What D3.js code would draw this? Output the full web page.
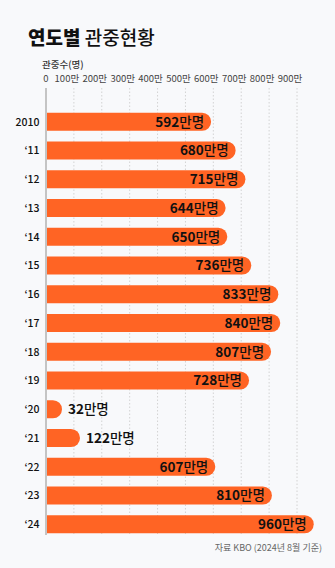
<!DOCTYPE html>
<html><head><meta charset="utf-8">
<script src="https://cdn.jsdelivr.net/npm/d3@7"></script>
<style>
html,body{margin:0;padding:0;background:#f8f9fb;}
svg{display:block;font-family:"Noto Sans CJK KR","Noto Sans",sans-serif;}
</style></head><body>
<div id="chart"></div>
<script>
const years = ["2010","‘11","‘12","‘13","‘14","‘15","‘16","‘17","‘18","‘19","‘20","‘21","‘22","‘23","‘24"];
const attendance = [592,680,715,644,650,736,833,840,807,728,32,122,607,810,960];
const tickValues = [0,100,200,300,400,500,600,700,800,900];
const tickLabels = ["0","100만","200만","300만","400만","500만","600만","700만","800만","900만"];

const W = 335, H = 568;
const svg = d3.select("#chart").append("svg").attr("width",W).attr("height",H);
svg.append("rect").attr("width",W).attr("height",H).attr("fill","#f8f9fb");

const x = d3.scaleLinear().domain([0,900]).range([46,297]);
const y = d3.scaleBand().domain(years).range([107.5,538.5]).paddingInner(0.37).paddingOuter(0.18);

// title
const t = svg.append("text").attr("x",28).attr("y",45).attr("font-size",19).attr("fill","#111");
t.append("tspan").attr("font-weight",800).text("연도별");
t.append("tspan").attr("font-weight",500).text(" 관중현황");

svg.append("text").attr("x",42).attr("y",68).attr("font-size",9.5).attr("fill","#333").attr("font-weight",500).text("관중수(명)");

// grid
const g = svg.append("g");
g.selectAll("line.grid").data(tickValues.slice(1)).join("line")
  .attr("x1",d=>x(d)).attr("x2",d=>x(d)).attr("y1",88).attr("y2",535)
  .attr("stroke","#c9c9c9").attr("stroke-width",0.8).attr("stroke-dasharray","1.5,2");
g.append("line").attr("x1",x(0)).attr("x2",x(0)).attr("y1",88).attr("y2",535)
  .attr("stroke","#c4c4c4").attr("stroke-width",2);

// tick labels
g.selectAll("text.tick").data(tickValues).join("text")
  .attr("x",(d,i)=>i===0?x(d):x(d)-7).attr("y",82)
  .attr("text-anchor","middle")
  .attr("font-size",9.5).attr("fill","#444")
  .text((d,i)=>tickLabels[i]);

// bars
const data = years.map((yr,i)=>({yr,v:attendance[i]}));
const bh = y.bandwidth();
const r = bh/2;
function barEnd(d){ return Math.max(x(d.v), x(0)+16); }
function barPath(d){
  const x0 = x(0)+1, x1 = barEnd(d), y0 = y(d.yr), h = bh;
  const rr = Math.min(r, x1-x0);
  return `M${x0},${y0}H${x1-rr}A${rr},${rr} 0 0 1 ${x1},${y0+rr}V${y0+h-rr}A${rr},${rr} 0 0 1 ${x1-rr},${y0+h}H${x0}Z`;
}
svg.append("g").selectAll("path").data(data).join("path")
  .attr("d",barPath).attr("fill","#ff6424");

// year labels
svg.append("g").selectAll("text").data(data).join("text")
  .attr("x",39.5).attr("y",d=>y(d.yr)+bh/2+3.8).attr("text-anchor","end")
  .attr("font-size",10.5).attr("font-weight",500).attr("fill","#111").text(d=>d.yr);

// value labels
const vl = svg.append("g").selectAll("text").data(data).join("text")
  .attr("y",d=>y(d.yr)+bh/2+4.8)
  .attr("x",d=>d.v<200 ? barEnd(d)+6 : barEnd(d)-7)
  .attr("text-anchor",d=>d.v<200?"start":"end")
  .attr("font-size",13.5).attr("fill","#111");
vl.append("tspan").attr("font-weight",700).text(d=>d.v);
vl.append("tspan").attr("font-weight",500).text("만명");

// source
svg.append("text").attr("x",322).attr("y",551).attr("text-anchor","end")
  .attr("font-size",9).attr("fill","#666").text("자료 KBO (2024년 8월 기준)");
</script>
</body></html>
